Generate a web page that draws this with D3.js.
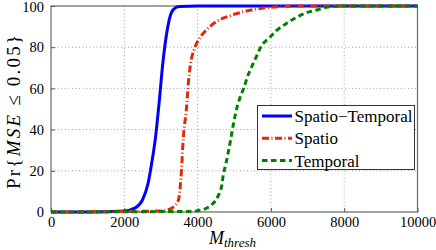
<!DOCTYPE html>
<html><head><meta charset="utf-8">
<script src="https://cdn.jsdelivr.net/npm/d3@7"></script>
<style>body{margin:0;background:#fff}svg{display:block}</style>
</head><body><svg id="c" width="436" height="250" font-family="Liberation Serif, Times New Roman, Times, DejaVu Serif, serif"></svg>
<script>
const xTicks = [0, 2000, 4000, 6000, 8000, 10000];
const yTicks = [0, 20, 40, 60, 80, 100];
const seriesNames = ["Spatio\u2212Temporal", "Spatio", "Temporal"];
const stX = [0, 1000, 2000, 2300, 2500, 2650, 2750, 2850, 2950, 3050, 3150, 3250, 3350, 3500, 4000, 10000];
const stY = [0, 0, 0.5, 2, 6, 14, 24, 36, 53, 72, 86, 95, 98.5, 99.7, 100, 100];
const spX = [0, 3000, 3250, 3400, 3480, 3545, 3610, 3700, 3750, 3800, 3920, 4060, 4250, 4500, 4900, 5250, 5600, 6000, 6500, 7000, 10000];
const spY = [0, 0.5, 1.5, 3.5, 6, 16, 36, 51, 63, 71, 79.5, 84.5, 88.5, 92.3, 95.4, 97.2, 98.5, 99.4, 99.9, 100, 100];
const tpX = [0, 3800, 4060, 4380, 4560, 4660, 4700, 4775, 4840, 4900, 4980, 5065, 5155, 5265, 5355, 5475, 5610, 5730, 5955, 6175, 6430, 6680, 6970, 7280, 7550, 8000, 10000];
const tpY = [0, 0.3, 0.8, 3.4, 7.8, 13, 18, 23.6, 29.3, 35, 43, 50, 55.5, 60.3, 65.4, 70.5, 75.7, 80.3, 84.5, 88.4, 91.6, 94.3, 96.7, 98.2, 99.5, 100, 100];

const FONT = "Liberation Serif, Times New Roman, Times, DejaVu Serif, serif";
const svg = d3.select("#c");
const L = 51, R = 417.5, T = 6, B = 212;
const x = d3.scaleLinear().domain([0, 10000]).range([L, R]);
const y = d3.scaleLinear().domain([0, 100]).range([B, T]);

// grid
const g = svg.append("g");
g.selectAll(".gx").data(xTicks.slice(1, -1)).enter().append("line")
  .attr("x1", d => x(d)).attr("x2", d => x(d)).attr("y1", T).attr("y2", B)
  .attr("stroke", "#a0a0a0").attr("stroke-width", 1).attr("stroke-dasharray", "1,2.5");
g.selectAll(".gy").data(yTicks.slice(1, -1)).enter().append("line")
  .attr("y1", d => y(d)).attr("y2", d => y(d)).attr("x1", L).attr("x2", R)
  .attr("stroke", "#a0a0a0").attr("stroke-width", 1).attr("stroke-dasharray", "1,2.5");

// axes
const fmt = d3.format("d");
const xAxis = d3.axisBottom(x).tickValues(xTicks).tickFormat(fmt).tickSizeInner(-4).tickSizeOuter(0).tickPadding(8);
const yAxis = d3.axisLeft(y).tickValues(yTicks).tickFormat(fmt).tickSizeInner(-4).tickSizeOuter(0).tickPadding(7);
const ax = svg.append("g").attr("transform", `translate(0,${B})`).call(xAxis);
const ay = svg.append("g").attr("transform", `translate(${L},0)`).call(yAxis);
[ax, ay].forEach(a => {
  a.attr("font-family", FONT).attr("font-size", 14.5);
  a.select(".domain").remove();
  a.selectAll("line").attr("stroke", "#555");
  a.selectAll("text").attr("fill", "#000");
});
ax.selectAll("text").attr("dy", "0.72em").attr("y", 5);
ay.selectAll("text").filter(d => d === 100).attr("dy", "0.4em");
svg.append("rect").attr("x", L).attr("y", T).attr("width", R - L).attr("height", B - T)
  .attr("fill", "none").attr("stroke", "#666").attr("stroke-width", 1.2);

// lines
const line = d3.line().x(d => x(d[0])).y(d => y(d[1])).curve(d3.curveMonotoneX);
const series = [
  {name: seriesNames[0], pts: d3.zip(stX, stY), color: "#0000ff", dash: null},
  {name: seriesNames[1], pts: d3.zip(spX, spY), color: "#e02a0a", dash: "7,2.5,1,2.5"},
  {name: seriesNames[2], pts: d3.zip(tpX, tpY), color: "#008000", dash: "5.5,3.5"}
];
series.forEach(s => {
  svg.append("path").attr("d", line(s.pts)).attr("fill", "none")
    .attr("stroke", s.color).attr("stroke-width", 3)
    .attr("stroke-dasharray", s.dash);
});

// legend
const lg = svg.append("g").attr("font-family", FONT);
lg.append("rect").attr("x", 257.5).attr("y", 105.5).attr("width", 157).attr("height", 64)
  .attr("fill", "#fff").attr("stroke", "#333").attr("stroke-width", 1);
series.forEach((s, i) => {
  const yy = 116 + i * 22.3;
  lg.append("line").attr("x1", 262).attr("x2", 292).attr("y1", yy).attr("y2", yy)
    .attr("stroke", s.color).attr("stroke-width", 3).attr("stroke-dasharray", s.dash);
  lg.append("text").attr("x", 294.5).attr("y", yy).attr("dy", "0.35em")
    .attr("font-size", 17).text(s.name);
});

// axis labels
const xl = svg.append("text").attr("x", 209).attr("y", 244).attr("font-size", 18).attr("font-family", FONT);
xl.append("tspan").attr("font-style", "italic").text("M");
xl.append("tspan").attr("font-style", "italic").attr("font-size", 13).attr("dy", 3).text("thresh");

const yl = svg.append("text").attr("transform", "translate(20,112) rotate(-90)")
  .attr("text-anchor", "middle").attr("font-size", 19).attr("font-family", FONT)
  .attr("textLength", 154).attr("lengthAdjust", "spacing");
yl.append("tspan").text("Pr{");
yl.append("tspan").attr("font-style", "italic").text("MSE");
yl.append("tspan").text(" \u2264 0.05}");
</script></body></html>
